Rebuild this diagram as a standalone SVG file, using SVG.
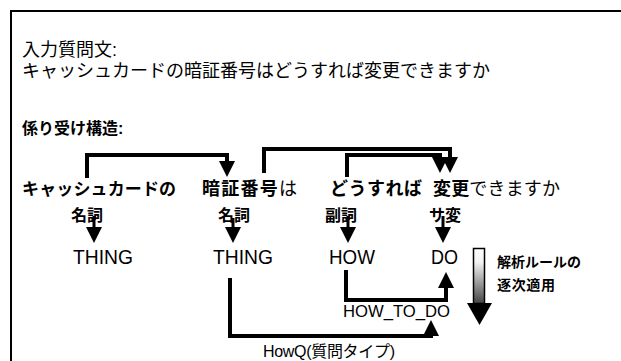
<svg xmlns="http://www.w3.org/2000/svg" xmlns:xlink="http://www.w3.org/1999/xlink" width="621" height="361" viewBox="0 0 621 361">
<style>
.jp{font-family:"Liberation Sans","Noto Sans CJK JP",sans-serif;fill:#000}
.b{font-weight:bold}
.lat{font-family:"Liberation Sans",Arial,sans-serif;fill:#000}
.ln{fill:none;stroke:#000;stroke-width:4;stroke-linejoin:miter}
.ln3{fill:none;stroke:#000;stroke-width:3}
.ah{fill:#000}
</style>
<defs>
<path id="ahd" d="M-8,-16 L8,-16 L0,0 Z"/>
<path id="ahu" d="M-8,16 L8,16 L0,0 Z"/>
<linearGradient id="grd" x1="0" y1="0" x2="0" y2="1">
<stop offset="0" stop-color="#fff"/>
<stop offset="0.25" stop-color="#f2f2f2"/>
<stop offset="1" stop-color="#444"/>
</linearGradient>
</defs>
<rect width="621" height="361" fill="#fff"/>
<rect x="11" y="11" width="620" height="360" fill="none" stroke="#000" stroke-width="2"/>

<g id="header">
<text class="jp" x="22" y="56" font-size="18">入力質問文:</text>
<text class="jp" x="22" y="77" font-size="18" textLength="468" lengthAdjust="spacing">キャッシュカードの暗証番号はどうすれば変更できますか</text>
<text class="jp b" x="22" y="134" font-size="16">係り受け構造:</text>
</g>

<g id="node-cash">
<text class="jp b" x="22" y="195" font-size="17" textLength="154" lengthAdjust="spacing">キャッシュカードの</text>
<text class="jp b" x="71" y="221" font-size="16">名詞</text>
<text class="lat" x="73" y="264" font-size="20" textLength="60" lengthAdjust="spacingAndGlyphs">THING</text>
</g>
<g id="node-pin">
<text class="jp" x="202" y="195" font-size="18" textLength="95" lengthAdjust="spacing"><tspan class="b">暗証番号</tspan><tspan>は</tspan></text>
<text class="jp b" x="218" y="221" font-size="16">名詞</text>
<text class="lat" x="213" y="264" font-size="20" textLength="60" lengthAdjust="spacingAndGlyphs">THING</text>
</g>
<g id="node-how">
<text class="jp b" x="330" y="195" font-size="18" textLength="92" lengthAdjust="spacing">どうすれば</text>
<text class="jp b" x="325" y="221" font-size="16">副詞</text>
<text class="lat" x="329" y="264" font-size="20" textLength="46" lengthAdjust="spacingAndGlyphs">HOW</text>
</g>
<g id="node-change">
<text class="jp" x="433" y="195" font-size="18" textLength="127" lengthAdjust="spacing"><tspan class="b">変更</tspan><tspan>できますか</tspan></text>
<text class="jp b" x="429" y="221" font-size="16">サ変</text>
<text class="lat" x="431" y="264" font-size="20" textLength="27" lengthAdjust="spacingAndGlyphs">DO</text>
</g>

<g id="connectors">
<path class="ln" d="M87,178 V155 H227 V163"/>
<use href="#ahd" class="ah" x="227" y="177"/>
<path class="ln" d="M264,173 V149 H450 V160"/>
<use href="#ahd" class="ah" x="450" y="173"/>
<path class="ln" d="M347,177 V155 H440 V160"/>
<use href="#ahd" class="ah" x="440" y="173"/>

<path class="ln3" d="M94,216 V229"/>
<use href="#ahd" class="ah" x="94" y="243"/>
<path class="ln3" d="M233,218 V229"/>
<use href="#ahd" class="ah" x="233" y="243"/>
<path class="ln3" d="M348,216 V229"/>
<use href="#ahd" class="ah" x="348" y="243"/>
<path class="ln3" d="M443,216 V229"/>
<use href="#ahd" class="ah" x="443" y="243"/>

<path class="ln" d="M346,270 V300 H446 V286"/>
<use href="#ahu" class="ah" x="446" y="272"/>
<text class="lat" x="343" y="317" font-size="16" textLength="107" lengthAdjust="spacingAndGlyphs">HOW_TO_DO</text>

<path class="ln" d="M230,278 V336 H431 V334"/>
<use href="#ahu" class="ah" x="431" y="320"/>
<text class="jp" x="263" y="357" font-size="16" textLength="132" lengthAdjust="spacing">HowQ(質問タイプ)</text>
</g>

<g id="process-arrow">
<rect x="473.5" y="248.5" width="11" height="55" fill="url(#grd)" stroke="#000" stroke-width="1.5"/>
<path d="M467,303 H492 L479.5,325 Z" fill="#000"/>
<text class="jp b" x="497" y="267" font-size="14" textLength="84" lengthAdjust="spacing">解析ルールの</text>
<text class="jp b" x="497" y="290" font-size="14" textLength="58" lengthAdjust="spacing">逐次適用</text>
</g>
</svg>
